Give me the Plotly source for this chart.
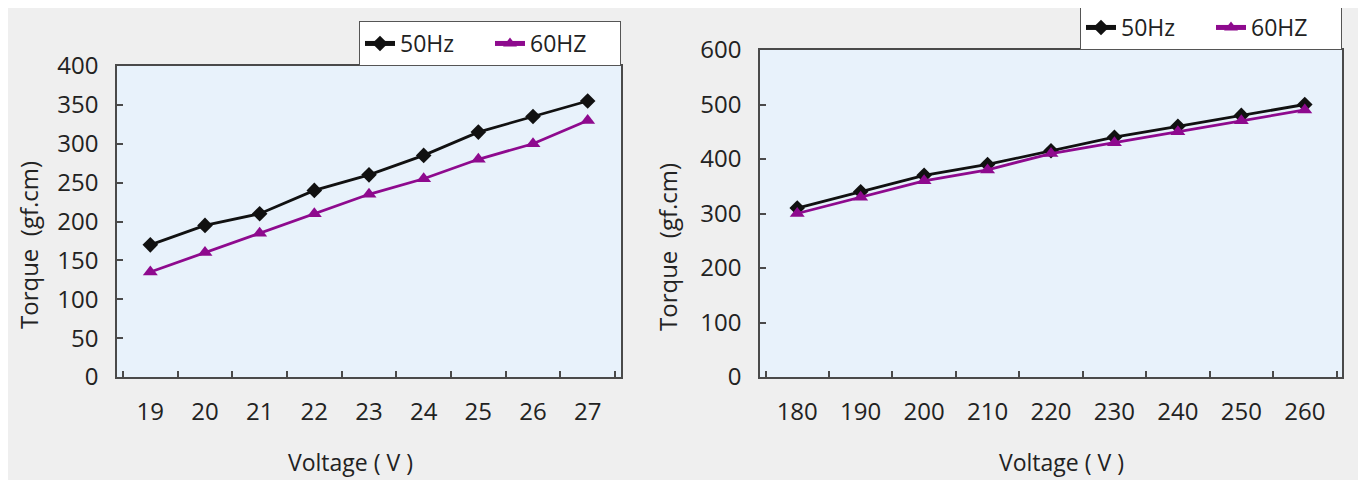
import plotly.graph_objects as go

# ---- data ----
left_voltage = ["19", "20", "21", "22", "23", "24", "25", "26", "27"]
left_50hz = [170, 195, 210, 240, 260, 285, 315, 335, 355]
left_60hz = [135, 160, 185, 210, 235, 255, 280, 300, 330]

right_voltage = ["180", "190", "200", "210", "220", "230", "240", "250", "260"]
right_50hz = [310, 340, 370, 390, 415, 440, 460, 480, 500]
right_60hz = [300, 330, 360, 380, 410, 430, 450, 470, 490]

series_names = ["50Hz", "60HZ"]
x_title = "Voltage ( V )"
y_title = "Torque  (gf.cm)"

W, H = 1366, 480
OFF = 8  # page body margin
FONT = "Open Sans, Noto Sans, DejaVu Sans, sans-serif"
BLACK = "#111111"
PURPLE = "#8e0a8e"
TXT = "#222222"

def px(x):
    return (x - OFF) / W

def py(y):
    return 1 - (y - OFF) / H

fig = go.Figure()

fig.add_trace(go.Scatter(x=left_voltage, y=left_50hz, name=series_names[0], mode="lines+markers",
                         line=dict(color=BLACK, width=2.8), marker=dict(symbol="diamond", size=12, color=BLACK),
                         xaxis="x", yaxis="y", legend="legend"))
fig.add_trace(go.Scatter(x=left_voltage, y=left_60hz, name=series_names[1], mode="lines+markers",
                         line=dict(color=PURPLE, width=2.8), marker=dict(symbol="triangle-up", size=13, color=PURPLE),
                         xaxis="x", yaxis="y", legend="legend"))
fig.add_trace(go.Scatter(x=right_voltage, y=right_50hz, name=series_names[0], mode="lines+markers",
                         line=dict(color=BLACK, width=2.8), marker=dict(symbol="diamond", size=12, color=BLACK),
                         xaxis="x2", yaxis="y2", legend="legend2"))
fig.add_trace(go.Scatter(x=right_voltage, y=right_60hz, name=series_names[1], mode="lines+markers",
                         line=dict(color=PURPLE, width=2.8), marker=dict(symbol="triangle-up", size=13, color=PURPLE),
                         xaxis="x2", yaxis="y2", legend="legend2"))

L = dict(x0=117, x1=621, y0=66, y1=377)
R = dict(x0=760, x1=1342, y0=50, y1=377)

axis_common = dict(showline=True, mirror=True, linecolor="#4a4a4a", linewidth=1.5,
                   showgrid=False, zeroline=False, ticks="inside", ticklen=6,
                   tickcolor="#4a4a4a", tickwidth=1.5,
                   tickfont=dict(family=FONT, size=24, color=TXT))

xcommon = dict(axis_common, type="category", tickson="boundaries", ticklabelstandoff=12)
ycommon = dict(axis_common, ticklabelstandoff=12)

legend_common = dict(orientation="h", xanchor="right", yanchor="bottom",
                     bgcolor="white", bordercolor="#555555", borderwidth=1,
                     font=dict(family=FONT, size=23, color=TXT),
                     entrywidth=85, entrywidthmode="pixels", tracegroupgap=0,
                     itemsizing="constant")

ann_font = dict(family=FONT, size=23, color=TXT)
ytitle_font = dict(family=FONT, size=24, color=TXT)

fig.update_layout(
    width=W, height=H,
    margin=dict(l=0, r=0, t=0, b=0, autoexpand=False),
    paper_bgcolor="#efefef",
    plot_bgcolor="#e8f2fb",
    font=dict(family=FONT, color=TXT),
    showlegend=True,
    xaxis=dict(xcommon, domain=[px(L["x0"]), px(L["x1"])], anchor="y"),
    yaxis=dict(ycommon, domain=[py(L["y1"]), py(L["y0"])], anchor="x", range=[0, 400], dtick=50),
    xaxis2=dict(xcommon, domain=[px(R["x0"]), px(R["x1"])], anchor="y2"),
    yaxis2=dict(ycommon, domain=[py(R["y1"]), py(R["y0"])], anchor="x2", range=[0, 600], dtick=100),
    legend=dict(legend_common, x=px(L["x1"]), y=py(L["y0"])),
    legend2=dict(legend_common, x=px(R["x1"]), y=py(R["y0"])),
    annotations=[
        dict(text=x_title, x=px(350), y=py(462), xref="paper", yref="paper", showarrow=False,
             xanchor="center", yanchor="middle", font=ann_font),
        dict(text=x_title, x=px(1061), y=py(462), xref="paper", yref="paper", showarrow=False,
             xanchor="center", yanchor="middle", font=ann_font),
        dict(text=y_title, x=px(28), y=py(245), xref="paper", yref="paper", showarrow=False, textangle=-90,
             xanchor="center", yanchor="middle", font=ytitle_font),
        dict(text=y_title, x=px(667), y=py(247), xref="paper", yref="paper", showarrow=False, textangle=-90,
             xanchor="center", yanchor="middle", font=ytitle_font),
    ],
)

fig.write_html("out.html")
